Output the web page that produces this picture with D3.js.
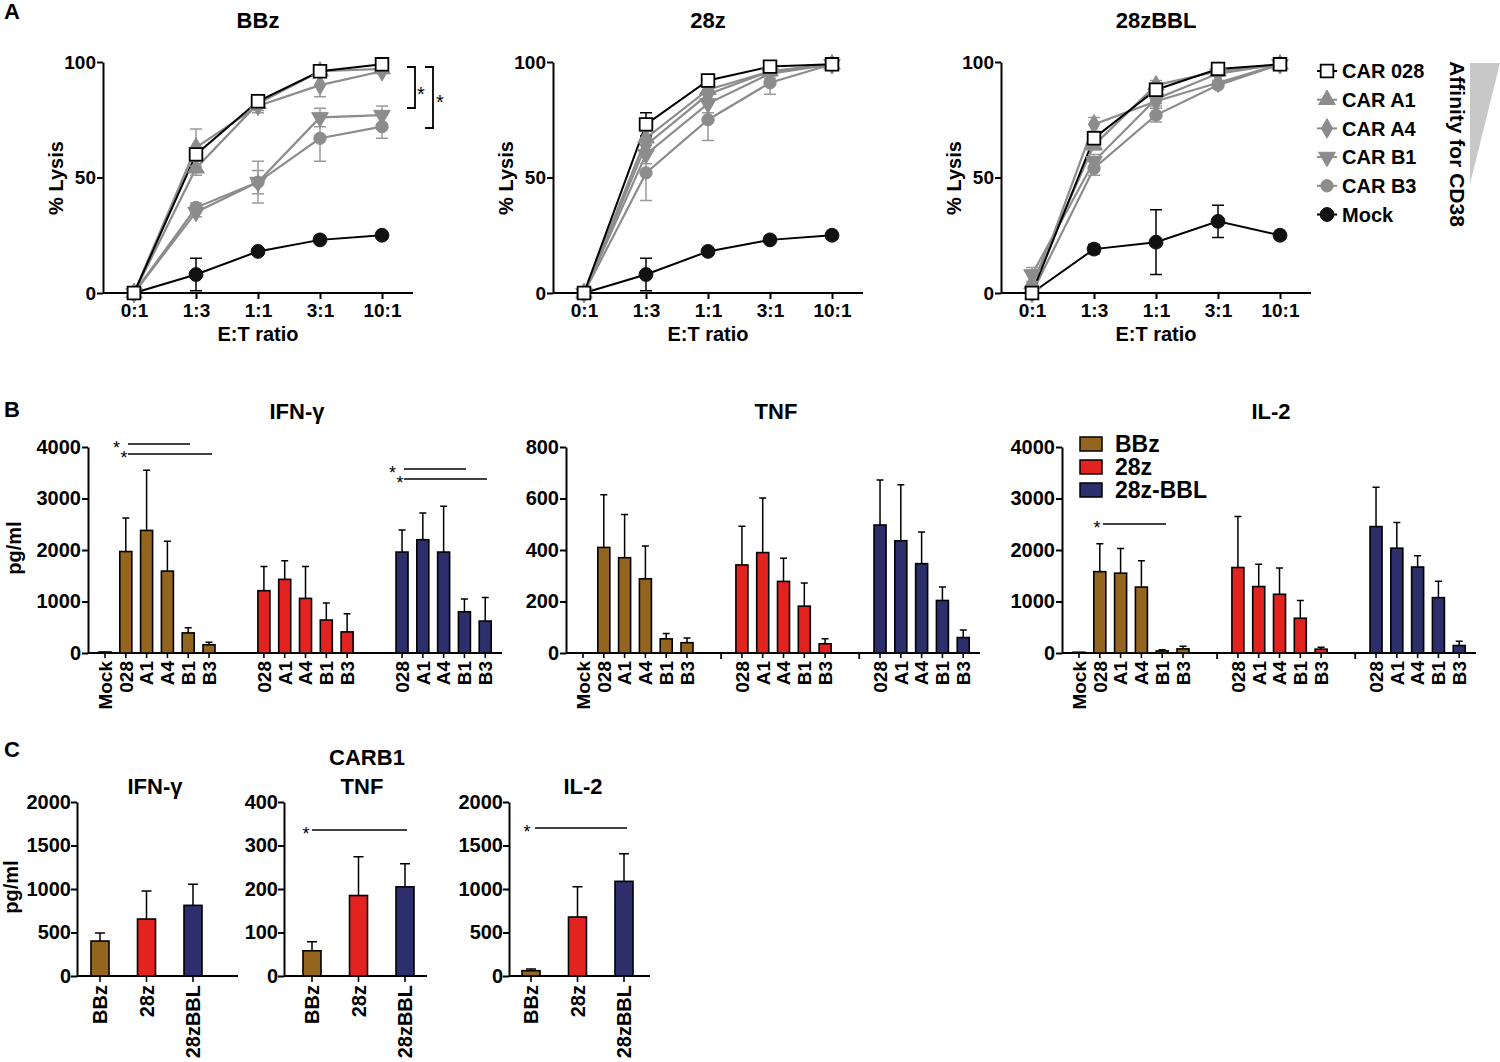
<!DOCTYPE html>
<html><head><meta charset="utf-8">
<script src="https://cdn.jsdelivr.net/npm/d3@7"></script>
<style>
body{margin:0;background:#fff}
svg{display:block}
text{font-family:"Liberation Sans",Arial,Helvetica,sans-serif;fill:#000}
</style>
</head><body>
<svg id="chart" width="1500" height="1062"></svg>
<script>
// ===================== DATA =====================
// Panel A: % lysis vs E:T ratio
const etRatios = ["0:1","1:3","1:1","3:1","10:1"];
const carNames = ["CAR 028","CAR A1","CAR A4","CAR B1","CAR B3","Mock"];
const lysisTitles = ["BBz","28z","28zBBL"];
// series order: 028, A1, A4, B1, B3, Mock
const lysisBBz = [[0,60,83,96,99],[0,54,82,96,97],[0,63,81,90,96],[0,35,48,76,77],[0,37,48,67,72],[0,8,18,23,25]];
const errBBz   = [[0,2,2,1,1],[0,3,3,1,1],[0,8,3,5,1],[0,2,5,4,4],[0,2,9,10,5],[0,7,1,1,1]];
const lysis28z = [[0,73,92,98,99],[0,67,88,96,99],[0,64,86,96,99],[0,60,82,95,99],[0,52,75,91,99],[0,8,18,23,25]];
const err28z   = [[0,5,2,1,0],[0,3,2,1,0],[0,3,3,2,0],[0,4,4,2,0],[0,12,9,5,0],[0,7,1,1,1]];
const lysisBBL = [[0,67,88,97,99],[4,64,90,96,99],[0,73,83,91,99],[8,57,84,95,99],[0,54,77,90,99],[0,19,22,31,25]];
const errBBL   = [[0,2,2,1,0],[0,2,2,1,0],[0,3,2,1,0],[3,3,2,1,0],[0,3,3,1,0],[0,2,14,7,1]];
const affinityLabel = "Affinity for CD38";

// Panel B: cytokines per construct
const carGroups = ["BBz","28z","28z-BBL"];
const constructs = ["028","A1","A4","B1","B3"];
const ifnMock = 20;
const ifnMeans = [[1970,2380,1590,390,160],[1210,1430,1060,640,410],[1960,2200,1960,800,620]];
const ifnSD    = [[650,1170,580,100,50],[470,360,620,330,350],[430,520,890,250,460]];
const tnfMock = 0;
const tnfMeans = [[410,370,288,55,40],[342,390,278,182,36],[497,436,347,204,60]];
const tnfSD    = [[205,168,128,21,18],[150,212,90,90,19],[175,217,123,52,29]];
const il2Mock = 15;
const il2Means = [[1580,1550,1280,40,80],[1660,1290,1140,675,75],[2455,2035,1670,1075,145]];
const il2SD    = [[540,480,510,25,50],[990,435,510,345,35],[765,500,220,320,85]];
const ifnTicks = [0,1000,2000,3000,4000];
const tnfTicks = [0,200,400,600,800];
const il2Ticks = [0,1000,2000,3000,4000];

// Panel C: CARB1
const cGroups = ["BBz","28z","28zBBL"];
const cIfn = [402,655,812],  cIfnSD = [92,322,242];
const cTnf = [58,185,205],   cTnfSD = [21,89,53];
const cIl2 = [61,678,1088],  cIl2SD = [19,349,318];
const cIfnTicks = [0,500,1000,1500,2000];
const cTnfTicks = [0,100,200,300,400];
const cIl2Ticks = [0,500,1000,1500,2000];

// ===================== STYLE =====================
const GRAY = "#8c8c8c";
const GRAY_ERR = "#9a9a9a";
const barColors = ["#93651f","#e3231f","#2c2f6b"];
const fmt = d3.format("d");
const svg = d3.select("#chart");
svg.append("rect").attr("width",1500).attr("height",1062).attr("fill","#fff");

function txt(g,x,y,s,size,opts={}){
  const t = g.append("text").attr("x",x).attr("y",y).text(s)
    .attr("font-size",size).attr("font-weight",opts.weight||"bold")
    .attr("text-anchor",opts.anchor||"middle");
  if(opts.rotate!==undefined) t.attr("transform",`rotate(${opts.rotate},${x},${y})`);
  if(opts.dy) t.attr("dy",opts.dy);
  return t;
}
function styleAxis(sel,fs){
  sel.selectAll(".domain").attr("stroke","#000").attr("stroke-width",2);
  sel.selectAll(".tick line").attr("stroke","#000").attr("stroke-width",2);
  sel.selectAll(".tick text").attr("font-size",fs).attr("font-weight","bold").attr("fill","#000")
     .style("font-family",'"Liberation Sans",Arial,sans-serif');
}

// ===================== PANEL A =====================
txt(svg,4,19,"A",22,{anchor:"start"});
const symTypes = [d3.symbolSquare,d3.symbolTriangle,d3.symbolDiamond,d3.symbolTriangle,d3.symbolCircle,d3.symbolCircle];
const symSizes = [160,120,110,120,120,150];
const symRot = [0,0,0,180,0,0];
const symFill = ["#fff",GRAY,GRAY,GRAY,GRAY,"#111"];
const symStroke = ["#000",GRAY,GRAY,GRAY,GRAY,"#111"];
const lineColor = ["#000",GRAY,GRAY,GRAY,GRAY,"#000"];
const errColor = ["#000",GRAY_ERR,GRAY_ERR,GRAY_ERR,GRAY_ERR,"#000"];

function marker(g,i,x,y){
  g.append("path").attr("d",d3.symbol().type(symTypes[i]).size(symSizes[i])())
    .attr("transform",`translate(${x},${y}) rotate(${symRot[i]})`)
    .attr("fill",symFill[i]).attr("stroke",symStroke[i]).attr("stroke-width",i===0?1.8:1);
}

function drawLysis(axisX,title,vals,errs){
  const g = svg.append("g");
  const y = d3.scaleLinear().domain([0,100]).range([293,62]);
  const x = d3.scalePoint().domain(etRatios).range([axisX+31,axisX+31+4*62]);
  const ya = g.append("g").attr("transform",`translate(${axisX},0)`)
    .call(d3.axisLeft(y).tickValues([0,50,100]).tickFormat(fmt).tickSize(6).tickSizeOuter(0).tickPadding(1));
  styleAxis(ya,19);
  const xa = g.append("g").attr("transform","translate(0,293)")
    .call(d3.axisBottom(x).tickSize(6).tickSizeOuter(0).tickPadding(5));
  xa.select(".domain").attr("d",`M${axisX},0H${axisX+310}`);
  styleAxis(xa,19);
  txt(g,axisX+155,28,title,22);
  txt(g,axisX+155,341,"E:T ratio",20);
  txt(g,axisX-40,178,"% Lysis",20,{rotate:-90});
  const line = d3.line().x((d,j)=>x(etRatios[j])).y(d=>y(d));
  const order = [5,1,2,3,4,0];
  order.forEach(i=>{
    g.append("path").attr("d",line(vals[i])).attr("fill","none")
      .attr("stroke",lineColor[i]).attr("stroke-width",i===0||i===5?2:2.2);
  });
  order.forEach(i=>{
    vals[i].forEach((v,j)=>{
      const e = errs[i][j]; if(!e) return;
      const cx = x(etRatios[j]);
      g.append("path").attr("d",`M${cx},${y(Math.max(0,v-e))}V${y(v+e)}M${cx-6},${y(v+e)}H${cx+6}M${cx-6},${y(Math.max(0,v-e))}H${cx+6}`)
        .attr("stroke",errColor[i]).attr("stroke-width",1.5).attr("fill","none");
    });
  });
  order.forEach(i=>{
    vals[i].forEach((v,j)=>marker(g,i,x(etRatios[j]),y(v)));
  });
  return {g,x,y};
}
drawLysis(103,lysisTitles[0],lysisBBz,errBBz);
drawLysis(553,lysisTitles[1],lysis28z,err28z);
drawLysis(1001,lysisTitles[2],lysisBBL,errBBL);

// significance brackets (BBz)
svg.append("path").attr("d","M407,67H415V108H407").attr("fill","none").attr("stroke","#000").attr("stroke-width",1.8);
svg.append("path").attr("d","M425,67H433V128H425").attr("fill","none").attr("stroke","#000").attr("stroke-width",1.8);
txt(svg,421,101,"*",20,{weight:"normal"});
txt(svg,440,109,"*",20,{weight:"normal"});

// legend A
carNames.forEach((n,i)=>{
  const ly = 71 + 28.7*i;
  svg.append("line").attr("x1",1317).attr("x2",1337).attr("y1",ly).attr("y2",ly)
    .attr("stroke",lineColor[i]).attr("stroke-width",2);
  marker(svg,i,1327,ly);
  txt(svg,1342,ly,n,20,{anchor:"start",dy:"0.36em"});
});
svg.append("polygon").attr("points","1470,63 1500,63 1470,184").attr("fill","#c8c8c8");
txt(svg,1450,144,affinityLabel,21,{rotate:90});

// ===================== PANEL B =====================
txt(svg,4,417,"B",22,{anchor:"start"});
const slotStep = 20.8, groupStride = 6.64;
function drawCytokine(x0,title,titleX,ticks,mockVal,means,sds,gapTicks){
  const g = svg.append("g");
  const axisX = x0-17;
  const y = d3.scaleLinear().domain([0,ticks[ticks.length-1]]).range([653,447]);
  const xs = d3.scaleLinear().domain([0,1]).range([x0,x0+slotStep]);
  const ya = g.append("g").attr("transform",`translate(${axisX},0)`)
    .call(d3.axisLeft(y).tickValues(ticks).tickFormat(fmt).tickSize(6).tickSizeOuter(0).tickPadding(1));
  styleAxis(ya,20);
  g.append("line").attr("x1",axisX).attr("x2",x0+397).attr("y1",653).attr("y2",653)
    .attr("stroke","#000").attr("stroke-width",2);
  txt(g,titleX,419,title,22);
  const items = [{slot:0,v:mockVal,sd:0,c:barColors[0],lab:"Mock"}];
  means.forEach((arr,gi)=>arr.forEach((v,i)=>items.push({slot:gi*groupStride+i+1,v,sd:sds[gi][i],c:barColors[gi],lab:constructs[i]})));
  items.forEach(d=>{
    const cx = xs(d.slot);
    g.append("line").attr("x1",cx).attr("x2",cx).attr("y1",653).attr("y2",658).attr("stroke","#000").attr("stroke-width",1.6);
    if(d.sd){
      g.append("path").attr("d",`M${cx},${y(d.v)}V${y(d.v+d.sd)}M${cx-3.5},${y(d.v+d.sd)}H${cx+3.5}`)
        .attr("stroke","#000").attr("stroke-width",1.5).attr("fill","none");
    }
    if(d.v>0){
      g.append("rect").attr("x",cx-6).attr("width",12).attr("y",y(d.v)).attr("height",653-y(d.v))
        .attr("fill",d.c).attr("stroke","#000").attr("stroke-width",1.6);
    }
    txt(g,cx,661,d.lab,19,{anchor:"end",rotate:-90,dy:"0.36em"});
  });
  if(gapTicks){
    [1,2].forEach(k=>{
      const gx = xs(k*groupStride);
      g.append("line").attr("x1",gx).attr("x2",gx).attr("y1",653).attr("y2",659).attr("stroke","#000").attr("stroke-width",1.8);
    });
  }
  return {g,xs,y};
}
drawCytokine(105,"IFN-γ",297,ifnTicks,ifnMock,ifnMeans,ifnSD,false);
drawCytokine(583,"TNF",776,tnfTicks,tnfMock,tnfMeans,tnfSD,true);
drawCytokine(1079,"IL-2",1271,il2Ticks,il2Mock,il2Means,il2SD,true);
txt(svg,21,548,"pg/ml",20,{rotate:-90});

// significance lines: stars slightly staggered so stacked stars do not collide
function sigLines(xs,x1,ends,ys){
  ys.forEach((yy,k)=>{
    svg.append("line").attr("x1",x1).attr("x2",ends[k]).attr("y1",yy).attr("y2",yy).attr("stroke","#000").attr("stroke-width",1.3);
    txt(svg,xs[k],yy+10,"*",18,{weight:"normal"});
  });
}
sigLines([116.5,124],128,[190,212],[444,454]);
sigLines([392.5,400],404,[466,487],[469,479]);
sigLines([1097],1103,[1166],[524]);

// legend B
carGroups.forEach((n,i)=>{
  const ly = 444 + 23*i;
  svg.append("rect").attr("x",1080).attr("y",ly-7).attr("width",22).attr("height",14)
    .attr("fill",barColors[i]).attr("stroke","#000").attr("stroke-width",1.5);
  txt(svg,1115,ly,n,23,{anchor:"start",dy:"0.36em"});
});

// ===================== PANEL C =====================
txt(svg,4,757,"C",22,{anchor:"start"});
txt(svg,367,765,"CARB1",22);
function drawC(axisX,bar0,endX,title,titleX,ticks,vals,sds){
  const g = svg.append("g");
  const y = d3.scaleLinear().domain([0,ticks[ticks.length-1]]).range([976,802]);
  const x = d3.scalePoint().domain(cGroups).range([bar0,bar0+93]);
  const ya = g.append("g").attr("transform",`translate(${axisX},0)`)
    .call(d3.axisLeft(y).tickValues(ticks).tickFormat(fmt).tickSize(6).tickSizeOuter(0).tickPadding(0));
  styleAxis(ya,20);
  g.append("line").attr("x1",axisX).attr("x2",endX).attr("y1",976).attr("y2",976).attr("stroke","#000").attr("stroke-width",2);
  txt(g,titleX,794,title,22);
  cGroups.forEach((c,i)=>{
    const cx = x(c);
    g.append("line").attr("x1",cx).attr("x2",cx).attr("y1",976).attr("y2",982).attr("stroke","#000").attr("stroke-width",1.6);
    g.append("path").attr("d",`M${cx},${y(vals[i])}V${y(vals[i]+sds[i])}M${cx-5},${y(vals[i]+sds[i])}H${cx+5}`)
      .attr("stroke","#000").attr("stroke-width",1.5).attr("fill","none");
    g.append("rect").attr("x",cx-9).attr("width",18).attr("y",y(vals[i])).attr("height",976-y(vals[i]))
      .attr("fill",barColors[i]).attr("stroke","#000").attr("stroke-width",1.6);
    txt(g,cx,985,c,20,{anchor:"end",rotate:-90,dy:"0.36em"});
  });
}
drawC(77,100,238,"IFN-γ",155,cIfnTicks,cIfn,cIfnSD);
drawC(284,312,427,"TNF",362,cTnfTicks,cTnf,cTnfSD);
drawC(509,531,650,"IL-2",583,cIl2Ticks,cIl2,cIl2SD);
txt(svg,18,887,"pg/ml",20,{rotate:-90});
sigLines([306],312,[407],[830]);
sigLines([527],535,[627],[828]);
</script>
</body></html>
